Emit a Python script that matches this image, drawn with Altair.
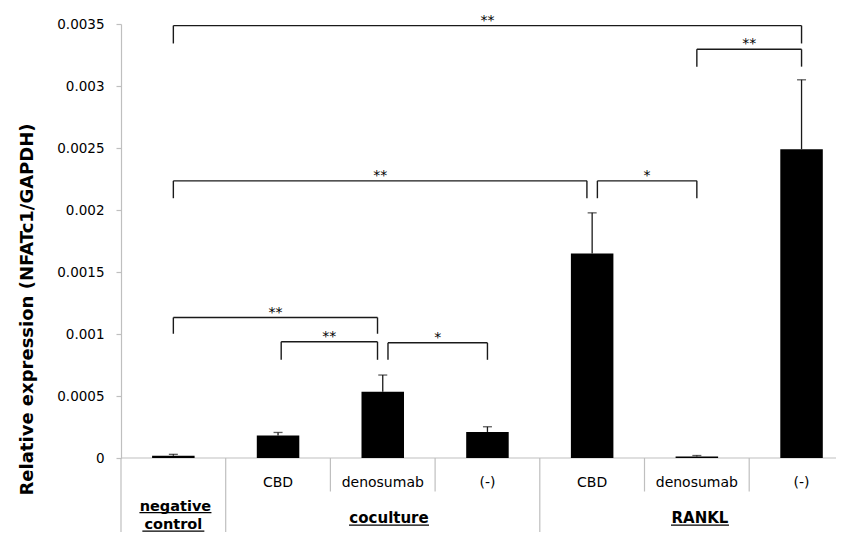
import altair as alt
import pandas as pd

# ---------------- data ----------------
categories = ["negative control", "coculture CBD", "coculture denosumab", "coculture (-)",
              "RANKL CBD", "RANKL denosumab", "RANKL (-)"]
cat_index = [0, 1, 2, 3, 4, 5, 6]
sub_labels = ["", "CBD", "denosumab", "(-)", "CBD", "denosumab", "(-)"]
means = [0.0000185, 0.000182, 0.000534, 0.00021, 0.001649, 0.000012, 0.00249]
errors = [0.000011, 0.000024, 0.000135, 0.000042, 0.000328, 0.000008, 0.00056]

# significance brackets (category units, y in data units)
br_from = [0.0, 5.0, 0.0, 4.05, 0.0, 1.03, 2.05]
br_to = [6.0, 6.0, 3.95, 5.0, 1.95, 1.95, 3.0]
br_top = [0.003487, 0.003296, 0.002235, 0.002235, 0.001133, 0.000937, 0.000929]
br_leg = [0.003343, 0.003156, 0.002095, 0.002095, 0.001002, 0.000792, 0.000792]
br_label = ["**", "**", "**", "*", "**", "**", "*"]

y_ticks = [0, 0.0005, 0.001, 0.0015, 0.002, 0.0025, 0.003, 0.0035]

boundaries = [0.5, 1.5, 2.5, 3.5, 4.5, 5.5]
boundary_long = [True, False, False, True, False, False]

group_labels = ["negative", "control", "coculture", "RANKL"]
group_x = [0.02, 0.0, 2.06, 5.03]
group_row = ["a", "c", "b", "b"]
group_width_px = [72, 62, 80, 58]

# ---------------- tables ----------------
bars = pd.DataFrame({"cat": categories, "x": cat_index, "mean": means, "err": errors,
                     "sub": sub_labels})
bars["top"] = bars["mean"] + bars["err"]
zero = pd.DataFrame({"z": [0.0]})

brk = pd.DataFrame({"x1": br_from, "x2": br_to, "top": br_top, "leg": br_leg, "label": br_label})
brk["mid"] = (brk["x1"] + brk["x2"]) / 2
legs = pd.concat([
    pd.DataFrame({"x": br_from, "top": br_top, "leg": br_leg}),
    pd.DataFrame({"x": br_to, "top": br_top, "leg": br_leg}),
])

sep = pd.DataFrame({"x": boundaries, "long": boundary_long})

UNIT_PX = 104.7
grp = pd.DataFrame({"label": group_labels, "x": group_x, "row": group_row,
                    "w": group_width_px})
grp["u1"] = grp["x"] - grp["w"] / 2 / UNIT_PX
grp["u2"] = grp["x"] + grp["w"] / 2 / UNIT_PX

FONT = "DejaVu Sans"
GRAY = "#bfbfbf"
INK = "#1a1a1a"
W, H = 715, 434
BOTTOM = 74

xs = alt.Scale(domain=[-0.5, -0.5 + W / UNIT_PX], nice=False, zero=False)
ys = alt.Scale(domain=[0, 0.0035], nice=False, zero=True)

yaxis = alt.Axis(values=y_ticks, format=".4~f", grid=False, domainColor=GRAY, tickColor=GRAY,
                 domainWidth=1.2, tickWidth=1.2,
                 tickSize=5, labelPadding=12, labelFont=FONT, labelFontSize=13.5,
                 labelColor="#000", title="Relative expression (NFATc1/GAPDH)",
                 titleFont=FONT, titleFontSize=18, titleFontWeight="bold", titleColor="#000",
                 titleAngle=270, titleX=-94, titleY=285, titleAlign="center",
                 titleBaseline="middle")


def X(f):
    return alt.X(f, type="quantitative", scale=xs, axis=None)


def Y(f):
    return alt.Y(f, type="quantitative", scale=ys, axis=yaxis)


bar_layer = alt.Chart(bars).mark_bar(color="#000").transform_calculate(
    xa="datum.x - 0.203", xb="datum.x + 0.203"
).encode(x=X("xa"), x2="xb", y=Y("mean"), y2=alt.datum(0))

err_line = alt.Chart(bars).mark_rule(color=INK, strokeWidth=1.3).encode(
    x=X("x"), y=Y("mean"), y2="top")
err_cap = alt.Chart(bars).mark_tick(color=INK, orient="horizontal", size=9, thickness=1.3).encode(
    x=X("x"), y=Y("top"))

baseline = alt.Chart(zero).mark_rule(color=GRAY, strokeWidth=1.2).encode(
    x=alt.value(0), x2=alt.value("width"), y=Y("z"))
left_ext = alt.Chart(zero).mark_rule(color=GRAY, strokeWidth=1.2).encode(
    x=alt.value(0), y=alt.value(H), y2=alt.value(H + BOTTOM))

sep_short = alt.Chart(sep).transform_filter("!datum.long").mark_rule(
    color=GRAY, strokeWidth=1.2).encode(x=X("x"), y=alt.value(H), y2=alt.value(H + 33.5))
sep_long = alt.Chart(sep).transform_filter("datum.long").mark_rule(
    color=GRAY, strokeWidth=1.2).encode(x=X("x"), y=alt.value(H), y2=alt.value(H + BOTTOM))

sub_text = alt.Chart(bars).mark_text(font=FONT, fontSize=14, color="#000", baseline="middle").encode(
    x=X("x"), y=alt.value(H + 24.5), text="sub:N")

rows = {"a": (H + 52.5, 14.5), "b": (H + 65, 15), "c": (H + 71, 14.5)}
grp_layers = []
for r, (yb, fs) in rows.items():
    base = alt.Chart(grp).transform_filter(f"datum.row == '{r}'")
    grp_layers.append(base.mark_text(font=FONT, fontSize=fs, fontWeight="bold", color="#000",
                                     baseline="alphabetic").encode(
        x=X("x"), y=alt.value(yb), text="label:N"))
    grp_layers.append(base.mark_rule(color="#000", strokeWidth=1.3).encode(
        x=X("u1"), x2="u2", y=alt.value(min(yb + 2.2, H + BOTTOM - 0.8))))

br_h = alt.Chart(brk).mark_rule(color=INK, strokeWidth=1.4).encode(
    x=X("x1"), x2="x2", y=Y("top"))
br_v = alt.Chart(legs).mark_rule(color=INK, strokeWidth=1.4).encode(
    x=X("x"), y=Y("top"), y2="leg")
br_t = alt.Chart(brk).mark_text(font=FONT, fontSize=14, color="#000", baseline="alphabetic",
                                dy=-1).encode(x=X("mid"), y=Y("top"), text="label:N")

chart = alt.layer(
    baseline, left_ext, sep_short, sep_long, bar_layer, err_line, err_cap,
    sub_text, *grp_layers, br_h, br_v, br_t
).properties(
    width=W, height=H,
    autosize=alt.AutoSizeParams(type="none"),
    padding={"left": 113, "top": 16, "right": 0, "bottom": BOTTOM},
    background="white",
).configure_view(stroke=None)

chart.save("out.html", embed_options={"renderer": "svg", "actions": False})
